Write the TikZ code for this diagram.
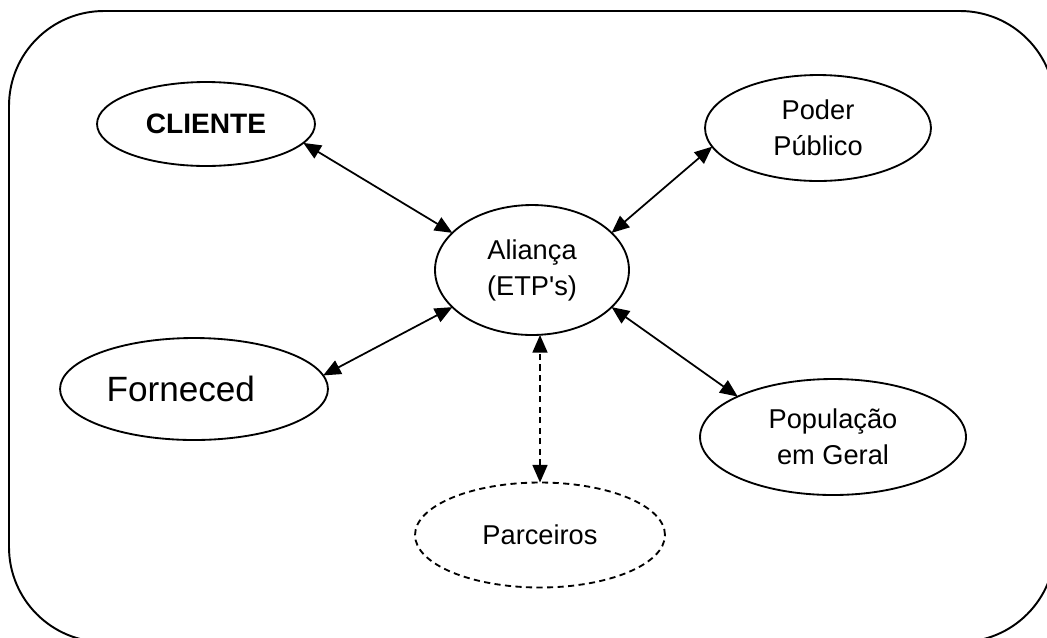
\documentclass[tikz,border=0pt]{standalone}
\usepackage{fontspec}
\setmainfont{Liberation Sans}
\usetikzlibrary{arrows.meta,shapes.geometric}
\begin{document}
\begin{tikzpicture}[x=0.02cm,y=-0.02cm,
  ell/.style={draw, ellipse, line width=1.05pt, inner sep=0pt, outer sep=0pt,
    font=\fontsize{15.5}{20.5}\selectfont, align=center},
  conn/.style={line width=1pt,
    {Triangle[length=10pt,width=8.5pt]}-{Triangle[length=10pt,width=8.5pt]}},
  frame/.style={draw, line width=1.1pt, rounded corners=1.9cm}]
\useasboundingbox (0,0) rectangle (1047,637);
\clip (0,0) rectangle (1047,637);
\draw[frame] (9,11) rectangle (1055,642);

\node[ell, minimum width=4.36cm, minimum height=1.68cm,
  font=\fontsize{16}{20.5}\selectfont\bfseries] (cliente) at (206,124) {CLIENTE};
\node[ell, minimum width=4.52cm, minimum height=2.12cm] (poder) at (818,128) {Poder\\Público};
\node[ell, minimum width=3.88cm, minimum height=2.60cm] (alianca) at (532,270) {Aliança\\(ETP\textquotesingle s)};
\node[ell, minimum width=5.36cm, minimum height=2.04cm,
  font=\fontsize{20}{24}\selectfont] (forneced) at (194,389) {\hspace*{-15pt}Forneced};
\node[ell, minimum width=5.32cm, minimum height=2.32cm] (populacao) at (833,437) {População\\em Geral};
\node[ell, dash pattern=on 3.5pt off 2.5pt, minimum width=5.0cm, minimum height=2.1cm] (parceiros) at (540,535) {Parceiros};

\draw[conn] (cliente.-11) -- (alianca.155);
\draw[conn] (poder.190) -- (alianca.25);
\draw[conn] (forneced.6) -- (alianca.205);
\draw[conn] (alianca.-25) -- (populacao.157);
\draw[conn, dash pattern=on 3.5pt off 2.5pt] (parceiros.north) -- (parceiros.north |- alianca.south);
\end{tikzpicture}
\end{document}
